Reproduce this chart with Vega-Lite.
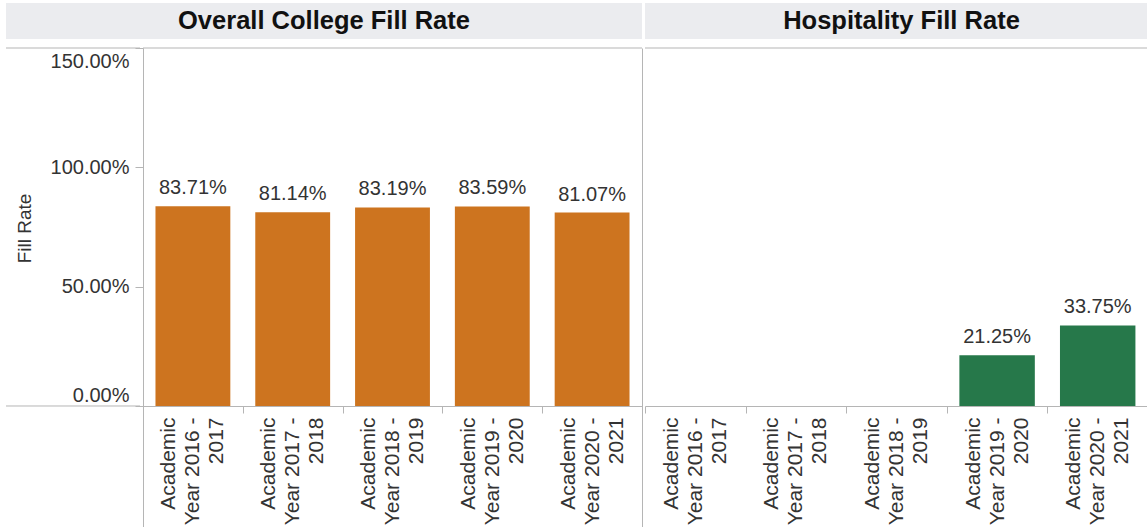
{
  "$schema": "https://vega.github.io/schema/vega-lite/v6.json",
  "padding": {"left": 5, "top": 3, "right": 0, "bottom": 0},
  "autosize": {"type": "pad"},
  "config": {
    "font": "Liberation Sans",
    "view": {"stroke": null},
    "axis": {
      "labelFont": "Liberation Sans",
      "titleFont": "Liberation Sans",
      "domainColor": "#B5B5B5",
      "tickColor": "#B5B5B5",
      "labelColor": "#333333",
      "titleColor": "#333333",
      "grid": false
    }
  },
  "datasets": {
    "overall": [
      {"year": "Academic Year 2016 - 2017", "rate": 0.8371},
      {"year": "Academic Year 2017 - 2018", "rate": 0.8114},
      {"year": "Academic Year 2018 - 2019", "rate": 0.8319},
      {"year": "Academic Year 2019 - 2020", "rate": 0.8359},
      {"year": "Academic Year 2020 - 2021", "rate": 0.8107}
    ],
    "hosp": [
      {"year": "Academic Year 2016 - 2017", "rate": null},
      {"year": "Academic Year 2017 - 2018", "rate": null},
      {"year": "Academic Year 2018 - 2019", "rate": null},
      {"year": "Academic Year 2019 - 2020", "rate": 0.2125},
      {"year": "Academic Year 2020 - 2021", "rate": 0.3375}
    ]
  },
  "vconcat": [
    {
      "hconcat": [
        {
          "width": 636,
          "height": 36,
          "view": {"fill": "#EBECEF", "stroke": null},
          "data": {"values": [{"t": "Overall College Fill Rate"}]},
          "mark": {"type": "text", "font": "Liberation Sans", "fontSize": 25.5, "fontWeight": "bold", "color": "#111111", "baseline": "middle", "align": "center"},
          "encoding": {"text": {"field": "t"}}
        },
        {
          "width": 503,
          "height": 36,
          "view": {"fill": "#EBECEF", "stroke": null},
          "data": {"values": [{"t": "Hospitality Fill Rate"}]},
          "mark": {"type": "text", "font": "Liberation Sans", "fontSize": 25.5, "fontWeight": "bold", "color": "#111111", "baseline": "middle", "align": "center", "dx": 5},
          "encoding": {"text": {"field": "t"}}
        }
      ],
      "spacing": 3,
      "bounds": "flush"
    },
    {
      "hconcat": [
        {
          "width": 134,
          "height": 480,
          "data": {"values": [{}]},
          "layer": [
            {
              "mark": {"type": "rule", "color": "#B5B5B5"},
              "encoding": {"y": {"datum": 0, "type": "quantitative", "scale": {"domain": [-0.5112, 1.5], "nice": false, "zero": false}, "axis": null}}
            },
            {
              "mark": {"type": "rule", "color": "#B5B5B5"},
              "encoding": {"y": {"datum": 1.5, "type": "quantitative", "axis": null}}
            }
          ]
        },
        {
          "width": 499,
          "height": 480,
          "data": {"name": "overall"},
          "layer": [
            {
              "mark": {"type": "bar", "color": "#CD741F", "width": {"band": 0.75}},
              "encoding": {
                "x": {
                  "field": "year", "type": "nominal", "sort": null,
                  "scale": {"domain": ["Academic Year 2016 - 2017", "Academic Year 2017 - 2018", "Academic Year 2018 - 2019", "Academic Year 2019 - 2020", "Academic Year 2020 - 2021"], "paddingInner": 0, "paddingOuter": 0},
                  "axis": {
                    "title": null, "orient": "bottom", "offset": -122,
                    "labelAngle": -90, "labelAlign": "right", "labelBaseline": "middle",
                    "labelFontSize": 21, "labelLineHeight": 24, "labelPadding": 4, "labelOffset": -24,
                    "tickSize": 7, "tickBand": "extent",
                    "labelExpr": "isValid(datum.label) && length(datum.label) > 20 ? ['Academic', substring(datum.label, 9, 20), substring(datum.label, 21)] : ''"
                  }
                },
                "y": {
                  "field": "rate", "type": "quantitative",
                  "scale": {"domain": [-0.5112, 1.5], "nice": false, "zero": false},
                  "axis": {
                    "orient": "left", "values": [0, 0.5, 1, 1.5], "format": ".2%",
                    "title": "Fill Rate", "titleFontSize": 19, "titleFontWeight": "normal",
                    "titleX": -119, "titleY": 180, "titleAngle": -90, "titleBaseline": "middle", "titleAlign": "center",
                    "labelFontSize": 20, "tickSize": 8, "labelPadding": 6,
                    "labelOffset": {"condition": {"test": "datum.value == 1.5", "value": 13}, "value": 0},
                    "labelBaseline": {"condition": {"test": "datum.value == 0", "value": "bottom"}, "value": "middle"}
                  }
                }
              }
            },
            {
              "mark": {"type": "text", "dy": -12, "baseline": "alphabetic", "fontSize": 20, "color": "#333333"},
              "encoding": {
                "x": {"field": "year", "type": "nominal", "sort": null},
                "y": {"field": "rate", "type": "quantitative", "axis": {"orient": "right", "labels": false, "ticks": false, "title": null, "domain": true}},
                "text": {"field": "rate", "type": "quantitative", "format": ".2%"}
              }
            },
            {
              "data": {"values": [{}]},
              "mark": {"type": "rule", "color": "#B5B5B5"},
              "encoding": {"y": {"datum": 1.5, "type": "quantitative", "axis": null}}
            }
          ],
          "resolve": {"axis": {"y": "independent"}}
        },
        {
          "width": 503,
          "height": 480,
          "data": {"name": "hosp"},
          "layer": [
            {
              "mark": {"type": "bar", "color": "#26784A", "width": {"band": 0.75}},
              "encoding": {
                "x": {
                  "field": "year", "type": "nominal", "sort": null,
                  "scale": {"domain": ["Academic Year 2016 - 2017", "Academic Year 2017 - 2018", "Academic Year 2018 - 2019", "Academic Year 2019 - 2020", "Academic Year 2020 - 2021"], "paddingInner": 0, "paddingOuter": 0},
                  "axis": {
                    "title": null, "orient": "bottom", "offset": -122,
                    "labelAngle": -90, "labelAlign": "right", "labelBaseline": "middle",
                    "labelFontSize": 21, "labelLineHeight": 24, "labelPadding": 4, "labelOffset": -24,
                    "tickSize": 7, "tickBand": "extent",
                    "labelExpr": "isValid(datum.label) && length(datum.label) > 20 ? ['Academic', substring(datum.label, 9, 20), substring(datum.label, 21)] : ''"
                  }
                },
                "y": {
                  "field": "rate", "type": "quantitative",
                  "scale": {"domain": [-0.5112, 1.5], "nice": false, "zero": false},
                  "axis": {"orient": "left", "labels": false, "ticks": false, "title": null, "domain": true}
                }
              }
            },
            {
              "mark": {"type": "text", "dy": -12, "baseline": "alphabetic", "fontSize": 20, "color": "#333333"},
              "encoding": {
                "x": {"field": "year", "type": "nominal", "sort": null},
                "y": {"field": "rate", "type": "quantitative", "axis": null},
                "text": {"field": "rate", "type": "quantitative", "format": ".2%"}
              }
            },
            {
              "data": {"values": [{}]},
              "mark": {"type": "rule", "color": "#B5B5B5"},
              "encoding": {"y": {"datum": 1.5, "type": "quantitative", "axis": null}}
            }
          ]
        }
      ],
      "spacing": 3,
      "bounds": "flush"
    }
  ],
  "spacing": 8
}
